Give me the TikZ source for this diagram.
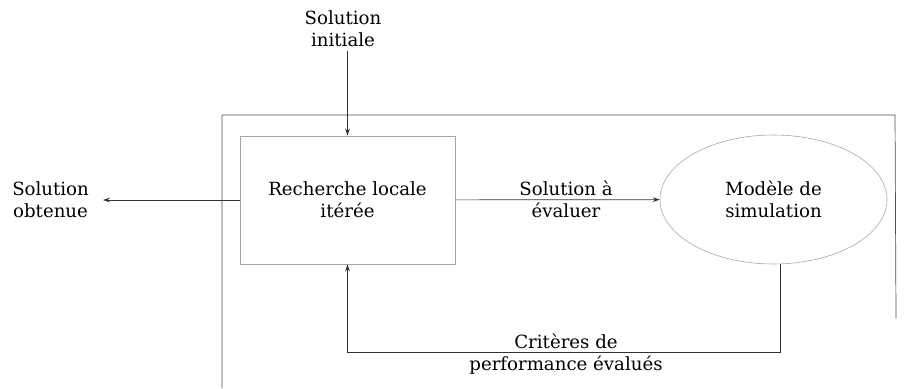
\documentclass[tikz,border=0pt]{standalone}
\usepackage{fontspec}
\setmainfont{DejaVu Serif}
\usetikzlibrary{arrows.meta,shapes.geometric,positioning}
\begin{document}
\begin{tikzpicture}[x=0.03cm,y=-0.03cm,
    >={Stealth[length=6pt,width=4pt]},
    lien/.style={->,draw=black!80,line width=0.6pt},
    texte/.style={align=center,font=\fontsize{15.5}{18.7}\selectfont},
    bloc/.style={draw=black!35,line width=0.5pt,texte}]
\useasboundingbox (0,0) rectangle (907,388);

% cadre autour de la boucle d'optimisation
\draw[black!70,line width=0.6pt] (222,388) -- (222,115) -- (895,115) -- (896,318);

% blocs
\node[bloc,minimum width=6.45cm,minimum height=3.84cm] (rll) at (347.5,200) {Recherche locale\\itérée};
\node[bloc,ellipse,minimum width=6.81cm,minimum height=3.87cm] (sim) at (773.5,199.5) {Modèle de\\simulation};

% entrées et sorties
\node[texte] (init) at (343,29) {Solution\\initiale};
\coordinate (sortie) at (103,200);
\node[texte,left=0.3cm of sortie] (obt) {Solution\\obtenue};
\node[texte] (eval) at (566,199) {Solution à\\évaluer};
\coordinate (retour) at (780,352);
\node[texte] (crit) at (566,354) {Critères de\\performance évalués};

\draw[lien] (init.south -| rll) -- (rll);
\draw[lien] (rll) -- (sortie);
\draw[lien] (rll) -- (sim);
\draw[lien] (sim.south -| retour) -- (retour) -| (rll);
\end{tikzpicture}
\end{document}
